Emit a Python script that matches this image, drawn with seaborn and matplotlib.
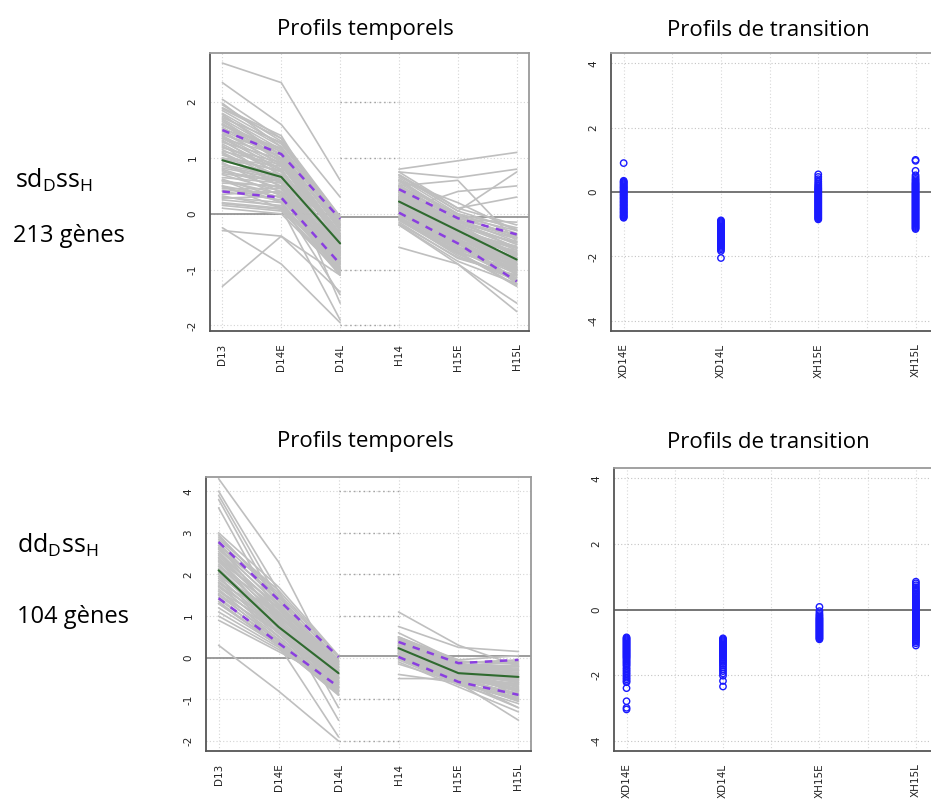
import numpy as np
import pandas as pd
import matplotlib.pyplot as plt
import seaborn as sns

sns.set_style("white")
plt.rcParams['font.family'] = ['Open Sans', 'DejaVu Sans']
plt.rcParams['mathtext.fontset'] = 'custom'
plt.rcParams['mathtext.rm'] = 'Open Sans'

# time points and transitions
time_points = ["D13", "D14E", "D14L", "H14", "H15E", "H15L"]
transitions = ["XD14E", "XD14L", "XH15E", "XH15L"]

# cluster 1 : sdDssH (213 genes) - representative gene profiles
profiles_sd = [
    [2.70, 2.35, 0.60, 0.80, 0.95, 1.10],
    [2.35, 1.60, 0.30, 0.75, 0.65, 0.80],
    [-0.30, -0.40, -1.40, -0.60, -0.90, -1.75],
    [-1.30, -0.40, -1.10, 0.05, 0.40, 0.50],
    [-0.25, -0.90, -1.95, 0.60, 0.20, -0.30],
    [2.05, 1.35, -0.05, 0.70, 0.05, 0.75],
    [1.95, 1.30, -0.05, 0.75, 0.10, -0.20],
    [1.85, 1.25, -0.10, 0.65, 0.00, -0.35],
    [1.80, 1.20, -0.20, 0.55, -0.05, -0.40],
    [1.75, 1.15, -0.15, 0.50, -0.10, -0.50],
    [1.70, 1.10, -0.30, 0.45, -0.15, -0.55],
    [1.65, 1.05, -0.25, 0.40, -0.20, -0.60],
    [1.60, 1.00, -0.35, 0.35, -0.25, -0.65],
    [1.55, 0.95, -0.40, 0.30, -0.30, -0.70],
    [1.50, 1.00, -0.45, 0.25, -0.25, -0.75],
    [1.45, 0.90, -0.50, 0.20, -0.35, -0.80],
    [1.40, 0.85, -0.45, 0.15, -0.40, -0.85],
    [1.35, 0.80, -0.55, 0.10, -0.45, -0.90],
    [1.30, 0.75, -0.60, 0.05, -0.50, -0.95],
    [1.25, 0.70, -0.65, 0.00, -0.55, -1.00],
    [1.20, 0.80, -0.70, 0.30, -0.20, -1.05],
    [1.15, 0.65, -0.50, 0.25, -0.30, -1.10],
    [1.10, 0.60, -0.75, 0.35, -0.25, -0.70],
    [1.05, 0.75, -0.40, 0.20, -0.40, -0.60],
    [1.00, 0.55, -0.80, 0.15, -0.45, -1.20],
    [0.95, 0.70, -0.60, 0.40, -0.15, -0.45],
    [0.90, 0.50, -0.85, 0.10, -0.50, -1.25],
    [0.85, 0.65, -0.55, 0.25, -0.35, -0.90],
    [0.80, 0.45, -0.90, 0.05, -0.60, -1.00],
    [0.75, 0.60, -0.70, 0.30, -0.30, -0.75],
    [0.70, 0.40, -0.95, 0.00, -0.65, -1.15],
    [0.65, 0.55, -0.65, 0.20, -0.40, -0.85],
    [0.60, 0.35, -1.00, -0.05, -0.70, -1.30],
    [0.55, 0.50, -0.75, 0.15, -0.45, -0.95],
    [0.50, 0.30, -1.05, -0.10, -0.75, -1.20],
    [0.45, 0.45, -0.80, 0.10, -0.50, -1.05],
    [0.40, 0.25, -0.90, -0.15, -0.80, -1.10],
    [0.35, 0.40, -0.85, 0.05, -0.55, -0.95],
    [0.30, 0.20, -1.00, -0.20, -0.85, -1.25],
    [0.25, 0.15, -0.95, 0.00, -0.60, -0.80],
    [0.20, 0.10, -1.10, -0.10, -0.70, -1.00],
    [0.15, 0.05, -1.00, 0.10, -0.50, -0.65],
    [0.10, 0.00, -1.05, -0.05, -0.65, -0.90],
    [1.90, 1.40, -0.30, 0.60, -0.10, -0.15],
    [1.60, 1.15, -0.20, 0.50, 0.00, -0.25],
    [1.35, 1.05, -0.35, 0.45, -0.05, -0.30],
    [0.60, 0.20, -1.45, 0.70, 0.10, 0.30],
    [1.00, 0.85, -1.60, 0.50, 0.60, -0.50],
    [0.50, 0.10, -1.90, -0.20, -0.90, -1.60],
    [1.98, 1.20, -0.12, 0.68, 0.05, -0.28],
    [1.88, 1.35, -0.25, 0.58, -0.02, -0.45],
    [1.78, 1.05, -0.40, 0.48, -0.12, -0.62],
    [1.72, 1.28, -0.08, 0.62, -0.08, -0.38],
    [1.62, 0.92, -0.52, 0.42, -0.18, -0.78],
    [1.58, 1.12, -0.30, 0.38, -0.22, -0.52],
    [1.48, 0.88, -0.62, 0.32, -0.28, -0.88],
    [1.42, 1.08, -0.22, 0.28, -0.32, -0.58],
    [1.32, 0.68, -0.72, 0.22, -0.38, -0.98],
    [1.28, 0.98, -0.38, 0.18, -0.42, -0.68],
    [1.22, 0.58, -0.82, 0.12, -0.48, -1.08],
    [1.12, 0.88, -0.48, 0.42, -0.18, -0.52],
    [1.08, 0.48, -0.88, 0.08, -0.52, -1.18],
    [0.98, 0.78, -0.58, 0.28, -0.32, -0.72],
    [0.92, 0.38, -0.92, 0.02, -0.58, -1.22],
    [0.88, 0.68, -0.62, 0.32, -0.28, -0.62],
    [0.78, 0.32, -0.98, -0.02, -0.62, -1.08],
    [0.72, 0.58, -0.68, 0.22, -0.38, -0.82],
    [0.62, 0.28, -1.02, -0.08, -0.68, -1.28],
    [0.58, 0.48, -0.72, 0.18, -0.42, -0.88],
    [0.48, 0.22, -1.08, -0.12, -0.72, -1.18],
    [0.42, 0.38, -0.78, 0.12, -0.48, -0.98],
    [0.32, 0.12, -0.98, -0.18, -0.78, -1.12],
    [0.28, 0.32, -0.88, 0.08, -0.52, -0.92],
    [0.18, 0.08, -1.08, -0.08, -0.68, -1.02],
    [1.52, 1.18, -0.18, 0.52, -0.12, -0.42],
    [1.18, 0.92, -0.42, 0.38, -0.22, -0.78],
    [0.82, 0.62, -0.78, 0.18, -0.48, -1.02],
    [1.38, 0.78, -0.68, 0.28, -0.38, -0.92],
    [1.68, 0.98, -0.48, 0.48, -0.28, -0.72],
]
mean_sd = [0.96, 0.66, -0.53, 0.22, -0.30, -0.82]
upper_sd = [1.50, 1.07, -0.09, 0.44, -0.08, -0.37]
lower_sd = [0.40, 0.29, -0.90, 0.02, -0.53, -1.21]

trans_sd = {
    "XD14E": [0.90, 0.35, 0.32, 0.30, 0.27, 0.24, 0.21, 0.18, 0.15, 0.13, 0.10, 0.07,
              0.04, 0.02, -0.01, -0.04, -0.07, -0.09, -0.12, -0.15, -0.18, -0.20,
              -0.23, -0.26, -0.29, -0.31, -0.34, -0.37, -0.40, -0.42, -0.45, -0.48,
              -0.51, -0.53, -0.56, -0.59, -0.62, -0.64, -0.67, -0.70, -0.73, -0.75,
              -0.78, -0.80],
    "XD14L": [-0.88, -0.91, -0.94, -0.97, -1.00, -1.03, -1.06, -1.09, -1.12, -1.15,
              -1.18, -1.21, -1.24, -1.27, -1.30, -1.33, -1.36, -1.39, -1.42, -1.45,
              -1.48, -1.51, -1.54, -1.57, -1.60, -1.63, -1.66, -1.70, -1.74, -1.78,
              -1.83, -2.05],
    "XH15E": [0.55, 0.47, 0.40, 0.33, 0.27, 0.22, 0.18, 0.14, 0.11, 0.08, 0.05, 0.02,
              -0.01, -0.04, -0.07, -0.10, -0.13, -0.16, -0.19, -0.22, -0.25, -0.28,
              -0.31, -0.34, -0.37, -0.40, -0.43, -0.46, -0.49, -0.52, -0.55, -0.58,
              -0.61, -0.64, -0.67, -0.70, -0.73, -0.76, -0.79, -0.82, -0.85],
    "XH15L": [1.00, 0.97, 0.66, 0.52, 0.46, 0.41, 0.37, 0.33, 0.29, 0.26, 0.23, 0.20,
              0.17, 0.14, 0.11, 0.08, 0.05, 0.02, -0.01, -0.04, -0.07, -0.10, -0.13,
              -0.16, -0.19, -0.22, -0.25, -0.28, -0.31, -0.34, -0.37, -0.40, -0.43,
              -0.46, -0.49, -0.52, -0.55, -0.58, -0.61, -0.64, -0.67, -0.70, -0.73,
              -0.76, -0.79, -0.82, -0.85, -0.88, -0.91, -0.94, -0.97, -1.00, -1.03,
              -1.06, -1.09, -1.12, -1.15],
}

# cluster 2 : ddDssH (104 genes)
profiles_dd = [
    [4.30, 2.30, -0.50, 1.10, 0.30, -0.20],
    [4.00, 1.60, -0.90, 0.75, 0.25, 0.15],
    [3.90, 1.40, -1.20, 0.60, -0.10, -0.60],
    [3.80, 1.20, -0.70, 0.50, -0.20, -0.30],
    [3.60, 1.00, -1.50, 0.40, -0.30, -0.90],
    [0.30, -0.80, -2.00, -0.50, -0.50, -1.20],
    [1.30, 0.30, -1.90, -0.40, -0.60, -1.50],
    [3.00, 1.70, 0.05, 0.50, -0.05, 0.05],
    [2.90, 1.55, 0.00, 0.45, -0.10, -0.10],
    [2.80, 1.50, -0.10, 0.40, -0.15, -0.20],
    [2.70, 1.40, -0.15, 0.35, -0.20, -0.25],
    [2.60, 1.30, -0.20, 0.30, -0.25, -0.35],
    [2.50, 1.20, -0.25, 0.40, -0.20, -0.40],
    [2.40, 1.10, -0.30, 0.25, -0.30, -0.45],
    [2.30, 1.00, -0.35, 0.30, -0.35, -0.50],
    [2.20, 0.90, -0.40, 0.20, -0.40, -0.55],
    [2.10, 0.85, -0.45, 0.25, -0.35, -0.60],
    [2.00, 0.80, -0.50, 0.15, -0.45, -0.65],
    [1.90, 0.70, -0.55, 0.20, -0.40, -0.70],
    [1.80, 0.65, -0.60, 0.10, -0.50, -0.75],
    [1.70, 0.60, -0.65, 0.15, -0.45, -0.80],
    [1.60, 0.50, -0.70, 0.05, -0.55, -0.85],
    [1.50, 0.45, -0.75, 0.10, -0.50, -0.90],
    [1.40, 0.40, -0.80, 0.00, -0.60, -1.00],
    [1.30, 0.35, -0.85, 0.05, -0.55, -1.05],
    [1.20, 0.30, -0.90, -0.05, -0.65, -1.10],
    [1.10, 0.25, -0.80, 0.00, -0.60, -1.20],
    [1.00, 0.20, -0.70, -0.10, -0.70, -1.30],
    [0.90, 0.15, -0.60, 0.10, -0.45, -1.00],
    [2.50, 1.00, -0.20, 0.50, -0.10, -0.15],
    [2.20, 1.20, -0.10, 0.35, -0.25, -0.30],
    [1.80, 1.00, -0.30, 0.30, -0.30, -0.40],
    [2.70, 0.90, -0.50, 0.20, -0.35, -0.55],
    [1.60, 0.75, -0.40, 0.25, -0.25, -0.20],
    [2.10, 0.60, -0.75, 0.10, -0.40, -0.75],
    [1.95, 1.10, -0.20, -0.15, -0.60, -0.95],
    [2.40, 0.70, -0.60, 0.45, -0.20, -0.10],
    [2.95, 1.45, -0.05, 0.42, -0.12, -0.05],
    [2.85, 1.62, 0.02, 0.48, -0.08, -0.15],
    [2.75, 1.35, -0.12, 0.38, -0.18, -0.28],
    [2.65, 1.25, -0.22, 0.32, -0.22, -0.32],
    [2.55, 1.15, -0.28, 0.28, -0.28, -0.42],
    [2.45, 1.05, -0.32, 0.22, -0.32, -0.48],
    [2.35, 0.95, -0.38, 0.18, -0.38, -0.52],
    [2.25, 0.88, -0.42, 0.12, -0.42, -0.58],
    [2.15, 0.78, -0.48, 0.08, -0.48, -0.62],
    [2.05, 0.72, -0.52, 0.02, -0.52, -0.68],
    [1.95, 0.62, -0.58, 0.28, -0.32, -0.72],
    [1.85, 0.58, -0.62, 0.22, -0.38, -0.78],
    [1.75, 0.52, -0.68, 0.18, -0.42, -0.82],
    [1.65, 0.42, -0.72, 0.12, -0.48, -0.88],
    [1.55, 0.38, -0.78, 0.08, -0.52, -0.92],
    [1.45, 0.32, -0.82, 0.02, -0.58, -0.98],
    [1.35, 0.28, -0.88, -0.02, -0.62, -1.02],
    [2.62, 1.48, -0.08, 0.35, -0.15, -0.22],
    [2.32, 1.28, -0.15, 0.25, -0.25, -0.38],
    [2.02, 1.02, -0.28, 0.18, -0.35, -0.52],
    [1.72, 0.82, -0.45, 0.12, -0.42, -0.65],
    [1.52, 0.62, -0.58, 0.05, -0.48, -0.78],
]
mean_dd = [2.10, 0.74, -0.37, 0.23, -0.37, -0.46]
upper_dd = [2.78, 1.39, 0.02, 0.38, -0.13, -0.05]
lower_dd = [1.43, 0.35, -0.70, 0.02, -0.58, -0.89]

trans_dd = {
    "XD14E": [-0.85, -0.88, -0.91, -0.94, -0.97, -1.00, -1.03, -1.06, -1.09, -1.12,
              -1.15, -1.18, -1.21, -1.24, -1.27, -1.30, -1.33, -1.36, -1.39, -1.42,
              -1.45, -1.48, -1.52, -1.56, -1.60, -1.64, -1.68, -1.72, -1.78, -1.83,
              -1.88, -1.93, -1.98, -2.03, -2.08, -2.13, -2.18, -2.22, -2.40, -2.80,
              -3.00, -3.05],
    "XD14L": [-0.88, -0.91, -0.94, -0.97, -1.00, -1.03, -1.06, -1.09, -1.12, -1.15,
              -1.18, -1.21, -1.24, -1.27, -1.30, -1.33, -1.36, -1.40, -1.44, -1.48,
              -1.52, -1.56, -1.60, -1.65, -1.70, -1.76, -1.82, -1.88, -1.95, -2.02,
              -2.18, -2.35],
    "XH15E": [0.08, -0.05, -0.12, -0.17, -0.21, -0.25, -0.28, -0.31, -0.34, -0.37,
              -0.40, -0.43, -0.46, -0.49, -0.52, -0.55, -0.58, -0.61, -0.64, -0.67,
              -0.70, -0.73, -0.76, -0.79, -0.82, -0.85, -0.88, -0.91],
    "XH15L": [0.85, 0.80, 0.74, 0.68, 0.63, 0.58, 0.54, 0.50, 0.46, 0.42, 0.38, 0.34,
              0.30, 0.27, 0.24, 0.21, 0.18, 0.15, 0.12, 0.09, 0.06, 0.03, 0.00, -0.03,
              -0.06, -0.09, -0.12, -0.15, -0.18, -0.21, -0.24, -0.27, -0.30, -0.33,
              -0.36, -0.39, -0.42, -0.45, -0.48, -0.51, -0.54, -0.57, -0.60, -0.63,
              -0.66, -0.69, -0.72, -0.75, -0.78, -0.81, -0.84, -0.87, -0.90, -0.94,
              -0.98, -1.03, -1.10],
}


def long_profiles(profiles):
    rows = []
    for g, prof in enumerate(profiles):
        for i, v in enumerate(prof):
            seg = 0 if i < 3 else 1
            rows.append({"unit": f"{g}_{seg}", "pos": i, "value": v})
    return pd.DataFrame(rows)


def long_summary(vals):
    return pd.DataFrame({"pos": range(6), "value": vals,
                         "unit": [0, 0, 0, 1, 1, 1]})


def style_axes(ax):
    ax.set_xlabel("")
    ax.set_ylabel("")
    for name, s in ax.spines.items():
        s.set_linewidth(1.3)
        s.set_color("#555555" if name in ("left", "bottom") else "#9a9a9a")
    ax.tick_params(axis="both", direction="out", length=5, width=1.0, color="#444444",
                   labelsize=7.5, labelcolor="#222222", pad=4)
    for lab in ax.get_xticklabels() + ax.get_yticklabels():
        lab.set_family("DejaVu Sans")


def draw_temporal(ax, profiles, mean, upper, lower, ylim, yticks, zero_shift):
    ax.set_xlim(-0.21, 5.21)
    ax.set_ylim(*ylim)
    # dotted grid
    for x in range(6):
        ax.axvline(x, color="#d4d4d4", lw=0.8, ls=(0, (1, 2)), zorder=0)
    for y in yticks:
        ax.axhline(y, color="#d4d4d4", lw=0.8, ls=(0, (1, 2)), zorder=0)
        if y != 0:
            ax.hlines(y, 2, 3, color="#a0a0a0", lw=1.0, ls=(0, (1, 2.5)), zorder=0)
    df = long_profiles(profiles)
    sns.lineplot(data=df, x="pos", y="value", units="unit", estimator=None,
                 color="#bfbfbf", lw=1.2, ax=ax, zorder=2)
    ax.hlines(0, -0.21, 2, color="#8c8c8c", lw=1.2, zorder=1)
    ax.hlines(zero_shift, 2, 5.21, color="#8c8c8c", lw=1.2, zorder=1)
    for vals in (upper, lower):
        sns.lineplot(data=long_summary(vals), x="pos", y="value", units="unit",
                     estimator=None, color="#8a3ee0", lw=1.8, ax=ax, zorder=4,
                     linestyle=(0, (3, 3)))
    sns.lineplot(data=long_summary(mean), x="pos", y="value", units="unit",
                 estimator=None, color="#2f6a2f", lw=1.5, ax=ax, zorder=5)
    ax.set_xticks(range(6))
    ax.set_xticklabels(time_points, rotation=90)
    ax.set_yticks(yticks)
    ax.set_yticklabels([str(t) for t in yticks], rotation=90, va="center")
    style_axes(ax)


def draw_transition(ax, trans):
    rows = [{"trans": k, "value": v} for k in transitions for v in trans[k]]
    df = pd.DataFrame(rows)
    for x in np.arange(0, 3.01, 0.5):
        ax.axvline(x, color="#d8d8d8", lw=0.8, ls=(0, (1, 2)), zorder=0)
    for y in [-4, -2, 2, 4]:
        ax.axhline(y, color="#c4c4c4", lw=0.8, ls=(0, (1, 2)), zorder=0)
    ax.axhline(0, color="#5e5e5e", lw=1.2, zorder=1)
    sns.stripplot(data=df, x="trans", y="value", order=transitions, jitter=False,
                  color="blue", size=4.6, ax=ax, zorder=3)
    for c in ax.collections:
        c.set_facecolor("none")
        c.set_edgecolor("#1a1aff")
        c.set_linewidth(1.0)
    ax.set_xlim(-0.13, 3.2)
    ax.set_ylim(-4.32, 4.32)
    ax.set_xticks(range(4))
    ax.set_xticklabels(transitions, rotation=90)
    ax.set_yticks([-4, -2, 0, 2, 4])
    ax.set_yticklabels(["-4", "-2", "0", "2", "4"], rotation=90, va="center")
    style_axes(ax)


fig = plt.figure(figsize=(9.31, 8), dpi=100)

ax1 = fig.add_axes([0.2256, 0.5862, 0.3427, 0.3475])
ax2 = fig.add_axes([0.6563, 0.5862, 0.3480, 0.3475])
ax3 = fig.add_axes([0.2213, 0.0612, 0.3491, 0.3425])
ax4 = fig.add_axes([0.6595, 0.0612, 0.3450, 0.3538])

draw_temporal(ax1, profiles_sd, mean_sd, upper_sd, lower_sd, (-2.1, 2.88),
              [-2, -1, 0, 1, 2], -0.05)
draw_transition(ax2, trans_sd)
draw_temporal(ax3, profiles_dd, mean_dd, upper_dd, lower_dd, (-2.24, 4.34),
              [-2, -1, 0, 1, 2, 3, 4], 0.05)
draw_transition(ax4, trans_dd)

title_kw = dict(ha="center", va="center", fontsize=16, color="black")
fig.text(365 / 931, 1 - 30 / 800, "Profils temporels", **title_kw)
fig.text(768 / 931, 1 - 30 / 800, "Profils de transition", **title_kw)
fig.text(365 / 931, 1 - 442 / 800, "Profils temporels", **title_kw)
fig.text(768 / 931, 1 - 442 / 800, "Profils de transition", **title_kw)

label_kw = dict(ha="left", va="center", color="black")
fig.text(15 / 931, 1 - 180 / 800, r"$\mathregular{sd_Dss_H}$", fontsize=18, **label_kw)
fig.text(13 / 931, 1 - 236 / 800, "213 gènes", fontsize=17, **label_kw)
fig.text(17 / 931, 1 - 545 / 800, r"$\mathregular{dd_Dss_H}$", fontsize=18, **label_kw)
fig.text(17 / 931, 1 - 617 / 800, "104 gènes", fontsize=17, **label_kw)

fig.savefig("out.png", dpi=100)
